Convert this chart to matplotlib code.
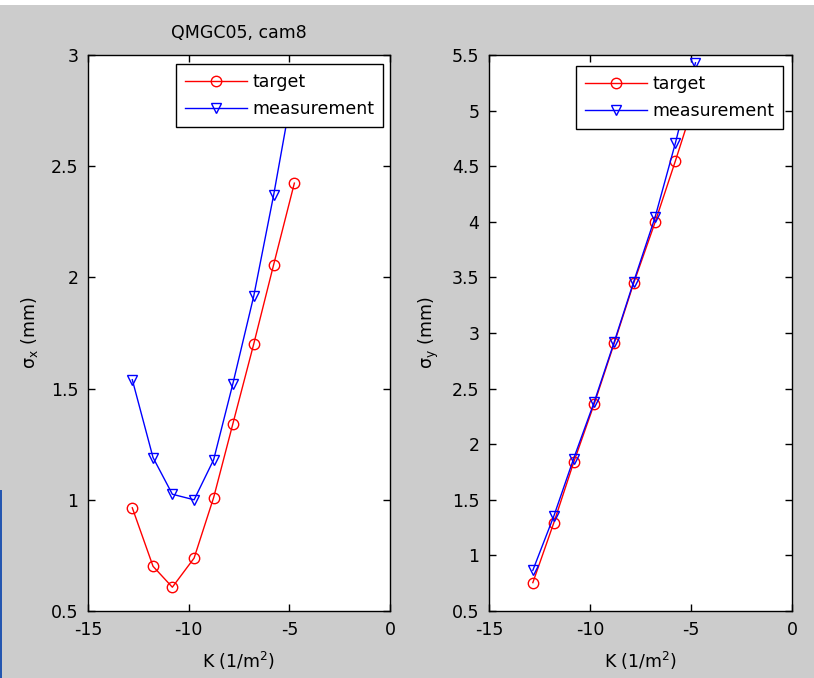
import numpy as np
import matplotlib
matplotlib.use('Agg')
import matplotlib.pyplot as plt
from matplotlib.patches import Rectangle

# Dados
k_x = [-12.8, -11.77, -10.81, -9.73, -8.76, -7.81, -6.77, -5.78, -4.75]
sx_target = [0.964, 0.701, 0.607, 0.738, 1.01, 1.34, 1.70, 2.057, 2.424]
sx_meas = [1.54, 1.19, 1.025, 1.00, 1.18, 1.52, 1.915, 2.37, 2.89]

k_y = [-12.83, -11.79, -10.81, -9.79, -8.80, -7.84, -6.78, -5.77, -4.78]
sy_target = [0.755, 1.294, 1.836, 2.363, 2.908, 3.447, 3.995, 4.549, 5.11]
sy_meas = [0.866, 1.354, 1.87, 2.38, 2.92, 3.46, 4.04, 4.71, 5.43]

x_ticks = [-15, -10, -5, 0]
yx_ticks = [0.5, 1, 1.5, 2, 2.5, 3]
yy_ticks = [0.5, 1, 1.5, 2, 2.5, 3, 3.5, 4, 4.5, 5, 5.5]

FS = 12.5
plt.rcParams['font.family'] = ['DejaVu Sans']
plt.rcParams['font.size'] = FS
plt.rcParams['axes.unicode_minus'] = False
plt.rcParams['mathtext.fontset'] = 'dejavusans'

fig = plt.figure(figsize=(8.14, 6.78), dpi=100, facecolor='#cccccc')
# faixa branca no topo e borda azul (artefatos da captura)
fig.patches.append(Rectangle((0, 1 - 5 / 678), 1, 5 / 678, transform=fig.transFigure,
                             facecolor='white', edgecolor='none', zorder=0))
fig.patches.append(Rectangle((0, 0), 2 / 814, 188 / 678, transform=fig.transFigure,
                             facecolor='#2456b0', edgecolor='none', zorder=0))

ax1 = fig.add_axes([88 / 814, 67 / 678, 302 / 814, 556 / 678])
ax2 = fig.add_axes([489 / 814, 67 / 678, 303 / 814, 556 / 678])


def desenhar(ax, k, alvo, medida, yticks, ylim, ylabel, leg_anchor):
    ax.plot(k, alvo, '-o', color='red', lw=1.0, ms=7.5, mfc='none', mew=1.0,
            label='target')
    ax.plot(k, medida, '-v', color='blue', lw=1.0, ms=7.5, mfc='none', mew=1.0,
            label='measurement')
    ax.set_xlim(-15, 0)
    ax.set_ylim(*ylim)
    ax.set_xticks(x_ticks)
    ax.set_xticklabels([f'{t:g}' for t in x_ticks])
    ax.set_yticks(yticks)
    ax.set_yticklabels([f'{t:g}' for t in yticks])
    ax.tick_params(direction='in', length=5, width=1, top=True, right=True,
                   labelsize=FS, pad=7)
    for s in ax.spines.values():
        s.set_linewidth(1.0)
    ax.set_xlabel(r'K (1/m$^2$)', labelpad=8)
    ax.set_ylabel(ylabel, labelpad=8)
    leg = ax.legend(loc='upper right', bbox_to_anchor=leg_anchor, fancybox=False,
                    framealpha=1, edgecolor='black', handlelength=3.6,
                    borderpad=0.5, labelspacing=0.55, handletextpad=0.3,
                    borderaxespad=0)
    leg.get_frame().set_linewidth(1.0)


desenhar(ax1, k_x, sx_target, sx_meas, yx_ticks, (0.5, 3), r'σ$_{\mathrm{x}}$ (mm)',
         (0.977, 0.984))
desenhar(ax2, k_y, sy_target, sy_meas, yy_ticks, (0.5, 5.5), r'σ$_{\mathrm{y}}$ (mm)',
         (0.970, 0.980))
ax1.set_title('QMGC05, cam8', fontsize=FS, pad=12)

plt.savefig('out.png', dpi=100, facecolor=fig.get_facecolor())
